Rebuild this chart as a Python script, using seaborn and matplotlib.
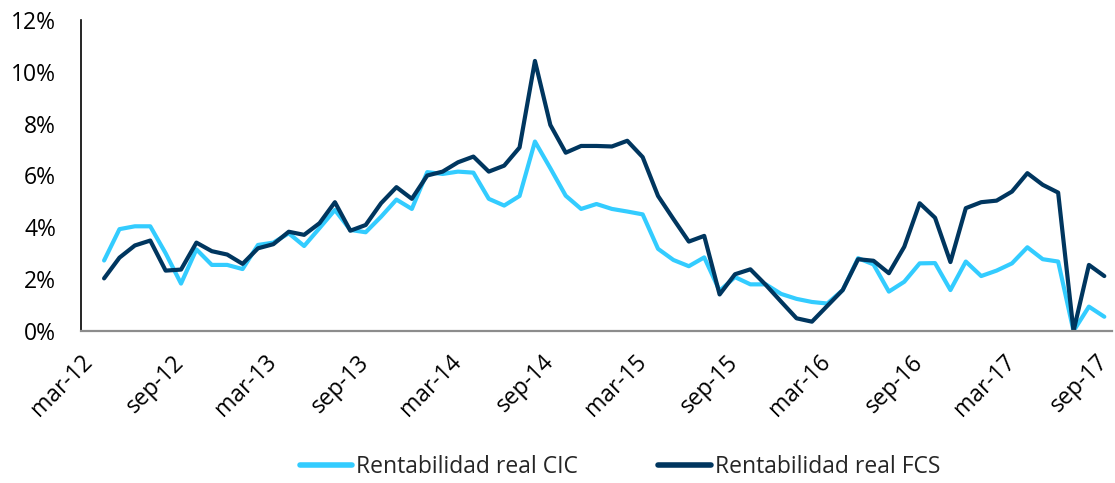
import numpy as np
import pandas as pd
import matplotlib
matplotlib.use("Agg")
import matplotlib.pyplot as plt
import seaborn as sns
from matplotlib.ticker import FuncFormatter, MultipleLocator

# --- Data (monthly, apr-12 .. sep-17, in %) ---
START_MONTH = "2012-04"
END_MONTH = "2017-09"

rent_cic = [
    2.72, 3.93, 4.04, 4.04, 3.00, 1.83, 3.15, 2.55, 2.55, 2.39,
    3.32, 3.41, 3.77, 3.28, 3.97, 4.67, 3.90, 3.81, 4.41, 5.07,
    4.71, 6.13, 6.06, 6.15, 6.11, 5.10, 4.84, 5.21, 7.31, 6.28,
    5.22, 4.71, 4.90, 4.71, 4.61, 4.50, 3.17, 2.74, 2.50, 2.84,
    1.55, 2.08, 1.80, 1.80, 1.43, 1.24, 1.12, 1.06, 1.58, 2.81,
    2.57, 1.52, 1.90, 2.61, 2.62, 1.58, 2.68, 2.12, 2.33, 2.61,
    3.23, 2.77, 2.68, 0.00, 0.94, 0.55,
]

rent_fcs = [
    2.03, 2.83, 3.30, 3.49, 2.33, 2.37, 3.41, 3.08, 2.95, 2.59,
    3.19, 3.35, 3.83, 3.71, 4.16, 4.97, 3.87, 4.09, 4.93, 5.55,
    5.10, 6.00, 6.15, 6.51, 6.73, 6.15, 6.38, 7.08, 10.42, 7.95,
    6.88, 7.14, 7.14, 7.12, 7.34, 6.71, 5.21, 4.32, 3.45, 3.67,
    1.41, 2.19, 2.38, 1.78, 1.13, 0.49, 0.36, 0.97, 1.58, 2.77,
    2.71, 2.23, 3.25, 4.93, 4.37, 2.66, 4.74, 4.97, 5.03, 5.38,
    6.09, 5.64, 5.34, 0.00, 2.55, 2.12,
]

tick_labels = [
    "mar-12", "sep-12", "mar-13", "sep-13", "mar-14", "sep-14",
    "mar-15", "sep-15", "mar-16", "sep-16", "mar-17", "sep-17",
]

series_names = ["Rentabilidad real CIC", "Rentabilidad real FCS"]

# --- Style ---
COLOR_CIC = "#33CCFF"
COLOR_FCS = "#00365F"
FONT = "Open Sans"
FONT_SIZE = 16.5


def build_frame() -> pd.DataFrame:
    months = pd.period_range(START_MONTH, END_MONTH, freq="M")
    # x = months since mar-12 (first tick)
    x = np.arange(1, len(months) + 1)
    df = pd.DataFrame({
        "x": np.concatenate([x, x]),
        "valor": np.array(rent_cic + rent_fcs) / 100.0,
        "serie": [series_names[0]] * len(x) + [series_names[1]] * len(x),
    })
    return df


def plot_rentabilidad(df: pd.DataFrame):
    sns.set_style("white")
    plt.rcParams["font.family"] = [FONT, "DejaVu Sans"]

    fig = plt.figure(figsize=(11.15, 4.83), dpi=100)
    ax = fig.add_axes([81 / 1115, 1 - 331 / 483, (1112 - 81) / 1115, (331 - 20) / 483])

    sns.lineplot(
        data=df, x="x", y="valor", hue="serie",
        palette=[COLOR_CIC, COLOR_FCS], linewidth=3.0, ax=ax,
    )
    for line in ax.get_lines():
        line.set_solid_joinstyle("round")
        line.set_solid_capstyle("round")

    ax.set_xlim(-0.5, 66.5)
    ax.set_ylim(0, 0.12)
    ax.yaxis.set_major_locator(MultipleLocator(0.02))
    ax.yaxis.set_major_formatter(FuncFormatter(lambda v, _: f"{v * 100:.0f}%"))

    ax.set_xticks(np.arange(0, 67, 6))
    ax.set_xticklabels(tick_labels, rotation=45, ha="right", va="center",
                       rotation_mode="anchor")
    ax.tick_params(axis="x", length=0, pad=20, labelsize=FONT_SIZE, colors="black")
    ax.tick_params(axis="y", length=0, pad=18, labelsize=FONT_SIZE, colors="black")
    ax.set_xlabel("")
    ax.set_ylabel("")

    for side in ["top", "right"]:
        ax.spines[side].set_visible(False)
    ax.spines["left"].set_color("black")
    ax.spines["left"].set_linewidth(1.2)
    ax.spines["bottom"].set_color("#8c8c8c")
    ax.spines["bottom"].set_linewidth(1.6)
    ax.grid(False)

    handles, labels = ax.get_legend_handles_labels()
    ax.legend_.remove()
    leg = fig.legend(
        handles, labels, loc="center", bbox_to_anchor=(0.556, 0.033),
        ncol=2, frameon=False, fontsize=FONT_SIZE, handlelength=2.3,
        handletextpad=0.17, columnspacing=3.5,
    )
    for h in leg.get_lines():
        h.set_linewidth(4.0)

    fig.savefig("out.png", dpi=100)


def main():
    df = build_frame()
    plot_rentabilidad(df)


if __name__ == "__main__":
    main()
